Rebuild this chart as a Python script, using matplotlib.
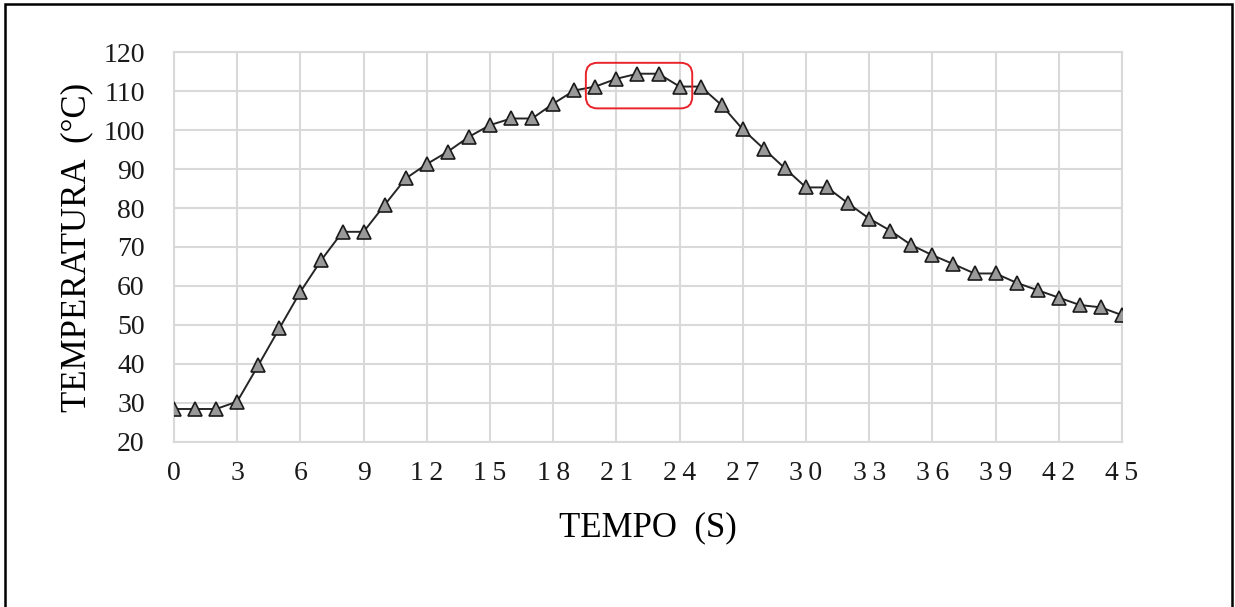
import matplotlib
matplotlib.use("Agg")
import matplotlib.pyplot as plt
from matplotlib.patches import FancyBboxPatch, Rectangle

time_s = list(range(0, 46))
temperature = [28.4, 28.4, 28.4, 30.3, 39.6, 49.1, 58.5, 66.7, 73.9, 73.9,
               80.8, 87.6, 91.3, 94.5, 98.3, 101.3, 103.0, 103.0, 106.8, 110.2,
               111.2, 113.2, 114.5, 114.5, 111.2, 111.2, 106.4, 100.2, 95.2, 90.2,
               85.3, 85.3, 81.2, 77.3, 74.2, 70.5, 67.9, 65.6, 63.2, 63.2,
               60.8, 58.9, 57.0, 55.1, 54.5, 52.5]
x_ticks = list(range(0, 46, 3))
y_ticks = list(range(20, 121, 10))
highlight_x = (19.55, 24.6)
highlight_y = (105.6, 117.3)

plt.rcParams['font.family'] = ['Liberation Serif', 'DejaVu Serif']

fig = plt.figure(figsize=(12.35, 6.07), dpi=100)
ax = fig.add_axes([174/1235, 1-441.7/607, (1122-174)/1235, (441.7-52.3)/607])

ax.plot(time_s, temperature, color='#262626', linewidth=1.4, marker='^',
        markersize=10.5, markerfacecolor='#999999', markeredgecolor='#1a1a1a',
        markeredgewidth=1.2, zorder=3)

ax.set_xlim(0, 45)
ax.set_ylim(20, 120)
ax.set_xticks(x_ticks)
ax.set_xticklabels(['\u2009'.join(str(v)) for v in x_ticks])
ax.set_yticks(y_ticks)
ax.grid(True, color='#d9d9d9', linewidth=1.5)
ax.set_axisbelow(True)
for s in ax.spines.values():
    s.set_color('#d9d9d9')
    s.set_linewidth(1.5)
ax.tick_params(axis='both', length=0, labelsize=20, colors='#000000')
ax.tick_params(axis='y', pad=21)
ax.tick_params(axis='x', pad=14)
for lbl in ax.get_xticklabels() + ax.get_yticklabels():
    lbl.set_color('#1a1a1a')

ax.set_xlabel('TEMPO  (S)', fontsize=25, labelpad=18)
ax.set_ylabel('TEMPERATURA  (°C)', fontsize=25, labelpad=7)

# red rounded highlight box
px_per_x = ((1122-174)/45)
px_per_y = ((441.7-52.3)/100)
aspect = px_per_x / px_per_y
box = FancyBboxPatch((highlight_x[0], highlight_y[0]),
                     highlight_x[1]-highlight_x[0], highlight_y[1]-highlight_y[0],
                     boxstyle="round,pad=0,rounding_size=0.55",
                     mutation_aspect=aspect, transform=ax.transData,
                     facecolor='none', edgecolor='#e8232a', linewidth=1.4, zorder=4)
ax.add_patch(box)

# outer black frame (open at bottom)
frame = Rectangle((5/1235, -0.05), (1232-5)/1235, 1-4/607+0.05,
                  transform=fig.transFigure, fill=False, edgecolor='black',
                  linewidth=1.8, clip_on=False)
fig.patches.append(frame)

fig.savefig('out.png', dpi=100, facecolor='white')
